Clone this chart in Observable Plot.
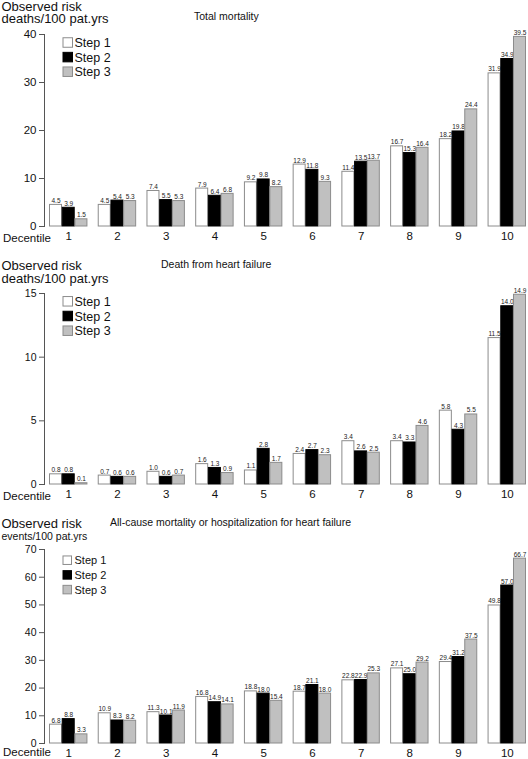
<!DOCTYPE html>
<html><head><meta charset="utf-8">
<script src="https://cdn.jsdelivr.net/npm/d3@7"></script>
<script src="https://cdn.jsdelivr.net/npm/@observablehq/plot@0.6"></script>
<style>
body{margin:0;background:#fff;font-family:"Liberation Sans",Arial,sans-serif;}
#chart{width:528px;}
#chart svg{display:block;}
</style></head><body><div id="chart"></div>
<script>
const decentiles = ["1","2","3","4","5","6","7","8","9","10"];
const steps = ["Step 1","Step 2","Step 3"];

const totalMortalityStep1 = [4.5,4.5,7.4,7.9,9.2,12.9,11.4,16.7,18.2,31.9];
const totalMortalityStep2 = [3.9,5.4,5.5,6.4,9.8,11.8,13.5,15.3,19.8,34.9];
const totalMortalityStep3 = [1.5,5.3,5.3,6.8,8.2,9.3,13.7,16.4,24.4,39.5];

const hfDeathStep1 = [0.8,0.7,1.0,1.6,1.1,2.4,3.4,3.4,5.8,11.5];
const hfDeathStep2 = [0.8,0.6,0.6,1.3,2.8,2.7,2.6,3.3,4.3,14.0];
const hfDeathStep3 = [0.1,0.6,0.7,0.9,1.7,2.3,2.5,4.6,5.5,14.9];

const compositeStep1 = [6.8,10.9,11.3,16.8,18.8,18.7,22.8,27.1,29.4,49.8];
const compositeStep2 = [8.8,8.3,10.1,14.9,18.0,21.1,22.9,25.0,31.2,57.0];
const compositeStep3 = [3.3,8.2,11.9,14.1,15.4,18.0,25.3,29.2,37.5,66.7];

const panelTitles = ["Total mortality","Death from heart failure","All-cause mortality or hospitalization for heart failure"];
const yLabelLine1 = "Observed risk";
const yLabelLine2 = ["deaths/100 pat.yrs","deaths/100 pat.yrs","events/100 pat.yrs"];
const xLabel = "Decentile";
const yTicks1 = [0,10,20,30,40];
const yTicks2 = [0,5,10,15];
const yTicks3 = [0,10,20,30,40,50,60,70];

const fills = ["#ffffff","#000000","#c0c0c0"];
const strokes = ["#8c8c8c","#000000","#8c8c8c"];

const panels = [
  {series:[totalMortalityStep1,totalMortalityStep2,totalMortalityStep3], ticks:yTicks1, height:248, mt:34, mb:22,
   tickFont:11.5, lab1:{y:11,size:13}, lab2:{y:23,size:13}, title:{x:194,y:20}, legend:{y:42.5,dy:14.6,box:9.5,size:12.5}, xlab:15.5},
  {series:[hfDeathStep1,hfDeathStep2,hfDeathStep3], ticks:yTicks2, height:258, mt:45, mb:22,
   tickFont:10.5, lab1:{y:22,size:13}, lab2:{y:34.7,size:13}, title:{x:161,y:20.3}, legend:{y:53.3,dy:14.7,box:9.5,size:12.5}, xlab:15.5},
  {series:[compositeStep1,compositeStep2,compositeStep3], ticks:yTicks3, height:253, mt:43, mb:16,
   tickFont:10.5, lab1:{y:22.3,size:13}, lab2:{y:34,size:10.5}, title:{x:110,y:20}, legend:{y:54.2,dy:14.7,box:8.5,size:11}, xlab:12.5}
];

function makePanel(cfg, idx) {
  const rows = [];
  cfg.series.forEach((vals, k) => vals.forEach((v, i) => rows.push({decentile: decentiles[i], step: steps[k], k, value: v})));
  const n = decentiles.length, pi = 0.232, po = 0.113, range = [44, 531];
  const stepPx = (range[1] - range[0]) / (n - pi + 2 * po);
  const bw = stepPx * (1 - pi);
  const barW = 12, gap = (bw - 3 * barW) / 2;
  const marks = [
    Plot.frame({anchor: "left", stroke: "#555"}),
    Plot.axisY({ticks: cfg.ticks, tickSize: 5, tickPadding: 3, fontSize: cfg.tickFont, label: null, stroke: "#555"}),
    Plot.axisX({tickSize: 0, tickPadding: 5, fontSize: 11.5, label: null})
  ];
  steps.forEach((s, k) => {
    const left = k * (barW + gap);
    const sub = rows.filter(d => d.k === k);
    marks.push(Plot.barY(sub, {x: "decentile", y: "value", fill: fills[k], stroke: strokes[k], strokeWidth: 1,
      insetLeft: left, insetRight: bw - left - barW}));
    marks.push(Plot.text(sub, {x: "decentile", y: "value", text: d => d.value.toFixed(1),
      dx: left + barW / 2 - bw / 2, dy: -2, lineAnchor: "bottom", fontSize: 6.5, fill: "#222"}));
  });
  const svg = Plot.plot({
    width: 528, height: cfg.height, marginLeft: 44, marginRight: 0, marginTop: cfg.mt, marginBottom: cfg.mb,
    style: {fontFamily: "'Liberation Sans', Arial, sans-serif", color: "#111", background: "#fff"},
    x: {domain: decentiles, range, paddingInner: pi, paddingOuter: po, round: false, axis: null},
    y: {domain: [0, d3.max(cfg.ticks)], axis: null},
    marks
  });
  const g = d3.select(svg).append("g").attr("font-family", "'Liberation Sans', Arial, sans-serif")
    .attr("fill", "#111").attr("text-anchor", "start");
  g.append("text").attr("x", 1.5).attr("y", cfg.lab1.y).attr("font-size", cfg.lab1.size).text(yLabelLine1);
  g.append("text").attr("x", 1.5).attr("y", cfg.lab2.y).attr("font-size", cfg.lab2.size).text(yLabelLine2[idx]);
  g.append("text").attr("x", cfg.title.x).attr("y", cfg.title.y).attr("font-size", 10.5).text(panelTitles[idx]);
  const y0 = cfg.height - cfg.mb;
  g.append("text").attr("x", 3).attr("y", y0 + cfg.xlab).attr("font-size", 11.5).text(xLabel);
  const L = cfg.legend;
  steps.forEach((s, k) => {
    const cy = L.y + k * L.dy;
    g.append("rect").attr("x", 63).attr("y", cy - L.box / 2).attr("width", L.box).attr("height", L.box)
      .attr("fill", fills[k]).attr("stroke", strokes[k]).attr("stroke-width", 1);
    g.append("text").attr("x", 74.5).attr("y", cy + L.size * 0.36).attr("font-size", L.size).text(s);
  });
  return svg;
}

const container = document.getElementById("chart");
panels.forEach((p, i) => container.appendChild(makePanel(p, i)));
</script>
</body></html>
